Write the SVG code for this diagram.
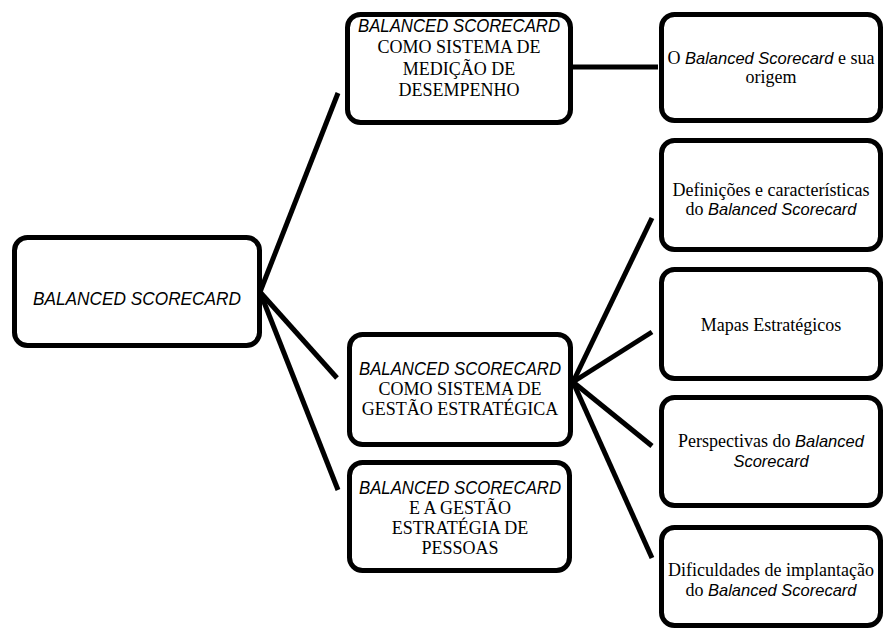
<svg xmlns="http://www.w3.org/2000/svg" width="885" height="632" viewBox="0 0 885 632">
<style>
.box{fill:#fff;stroke:#000;stroke-width:5}
.c{stroke:#000;stroke-width:5;fill:none}
.t{font-family:"Liberation Serif","Times New Roman",serif;font-size:18px;fill:#000;text-anchor:middle}
.i{font-family:"Liberation Sans",Arial,sans-serif;font-style:italic;font-size:16.5px}
.u{font-family:"Liberation Sans",Arial,sans-serif;font-style:italic;font-size:18px;fill:#000;text-anchor:middle}
</style>
<rect width="885" height="632" fill="#fff"/>
<g id="connectors">
<line class="c" x1="571" y1="67" x2="658" y2="67"/>
<line class="c" x1="260" y1="292" x2="338" y2="93"/>
<line class="c" x1="260" y1="292" x2="337" y2="378"/>
<line class="c" x1="260" y1="292" x2="338" y2="490"/>
<line class="c" x1="573" y1="382" x2="652" y2="218"/>
<line class="c" x1="573" y1="382" x2="652" y2="332"/>
<line class="c" x1="573" y1="382" x2="652" y2="446"/>
<line class="c" x1="573" y1="382" x2="652" y2="558"/>
</g>
<g id="root">
<rect class="box" x="14.5" y="237.5" width="245" height="108" rx="13"/>
<text class="u" x="137" y="305" font-size="19" textLength="208" lengthAdjust="spacingAndGlyphs">BALANCED SCORECARD</text>
</g>
<g id="medicao">
<rect class="box" x="347.5" y="14.5" width="223" height="108" rx="13"/>
<text class="u" x="459" y="32" textLength="202" lengthAdjust="spacingAndGlyphs">BALANCED SCORECARD</text>
<text class="t" x="459" y="53">COMO SISTEMA DE</text>
<text class="t" x="459" y="75">MEDIÇÃO DE</text>
<text class="t" x="459" y="96">DESEMPENHO</text>
</g>
<g id="gestao">
<rect class="box" x="349.5" y="334.5" width="221" height="110" rx="13"/>
<text class="u" x="460" y="375" textLength="202" lengthAdjust="spacingAndGlyphs">BALANCED SCORECARD</text>
<text class="t" x="460" y="395">COMO SISTEMA DE</text>
<text class="t" x="460" y="415">GESTÃO ESTRATÉGICA</text>
</g>
<g id="pessoas">
<rect class="box" x="349.5" y="462.5" width="220" height="108" rx="13"/>
<text class="u" x="460" y="494" textLength="202" lengthAdjust="spacingAndGlyphs">BALANCED SCORECARD</text>
<text class="t" x="460" y="514">E A GESTÃO</text>
<text class="t" x="460" y="534">ESTRATÉGIA DE</text>
<text class="t" x="460" y="554">PESSOAS</text>
</g>
<g id="origem">
<rect class="box" x="661.5" y="14.5" width="219" height="106" rx="13"/>
<text class="t" x="771" y="64">O <tspan class="i">Balanced Scorecard</tspan> e sua</text>
<text class="t" x="771" y="83">origem</text>
</g>
<g id="definicoes">
<rect class="box" x="661.5" y="140.5" width="219" height="109" rx="13"/>
<text class="t" x="771" y="196">Definições e características</text>
<text class="t" x="771" y="215">do <tspan class="i">Balanced Scorecard</tspan></text>
</g>
<g id="mapas">
<rect class="box" x="661.5" y="269.5" width="219" height="109" rx="13"/>
<text class="t" x="771" y="331">Mapas Estratégicos</text>
</g>
<g id="perspectivas">
<rect class="box" x="661.5" y="397.5" width="219" height="108" rx="13"/>
<text class="t" x="771" y="447">Perspectivas do <tspan class="i">Balanced</tspan></text>
<text class="t" x="771" y="467"><tspan class="i">Scorecard</tspan></text>
</g>
<g id="dificuldades">
<rect class="box" x="661.5" y="527.5" width="219" height="98" rx="13"/>
<text class="t" x="771" y="576">Dificuldades de implantação</text>
<text class="t" x="771" y="596">do <tspan class="i">Balanced Scorecard</tspan></text>
</g>
</svg>
